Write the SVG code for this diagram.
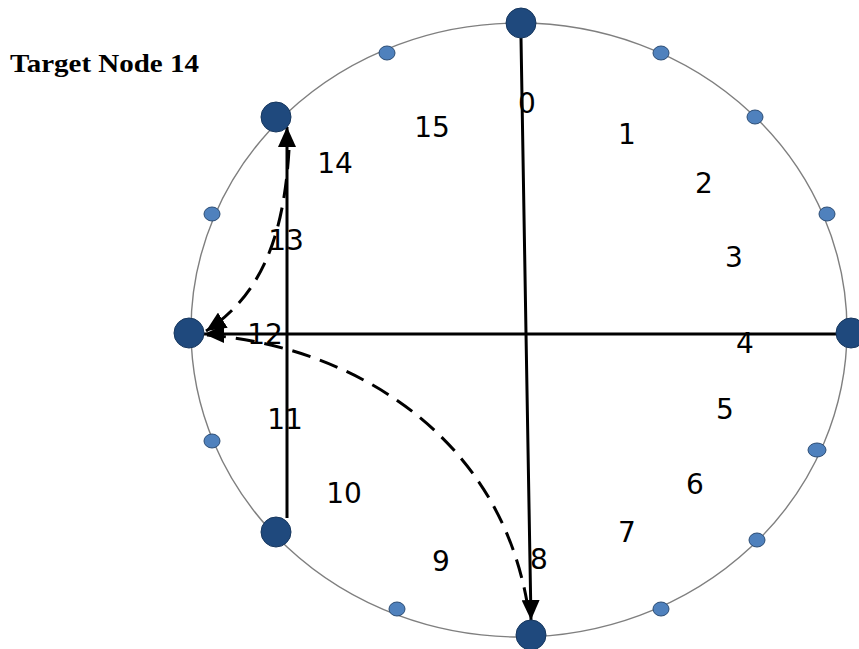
<svg xmlns="http://www.w3.org/2000/svg" width="859" height="649" viewBox="0 0 859 649">
<style>
.ring{fill:none;stroke:#7f7f7f;stroke-width:1.4}
.big{fill:#1F497D;stroke:#17375E;stroke-width:1}
.small{fill:#4F81BD;stroke:#2C4D75;stroke-width:1}
.lbl{font-family:"DejaVu Sans",Verdana,sans-serif;font-size:28px;fill:#000;text-anchor:middle}
.solid{fill:none;stroke:#000;stroke-width:3}
.dash{fill:none;stroke:#000;stroke-width:3;stroke-dasharray:19 10}
.title{font-family:"Liberation Serif","Times New Roman",serif;font-weight:bold;font-size:26px;fill:#000}
</style>
<defs>
<marker id="ah" markerUnits="userSpaceOnUse" markerWidth="20" markerHeight="18" refX="20" refY="9" orient="auto" viewBox="0 0 20 18">
<path d="M0,0 L20,9 L0,18 z" fill="#000"/>
</marker>
</defs>
<rect width="859" height="649" fill="#fff"/>
<text class="title" x="10" y="72" textLength="189" lengthAdjust="spacingAndGlyphs">Target Node 14</text>
<ellipse class="ring" cx="519" cy="330" rx="328" ry="307"/>
<g id="labels">
<text class="lbl" x="527" y="113">0</text>
<text class="lbl" x="627" y="144">1</text>
<text class="lbl" x="704" y="193">2</text>
<text class="lbl" x="734" y="267">3</text>
<text class="lbl" x="745" y="353">4</text>
<text class="lbl" x="725" y="419">5</text>
<text class="lbl" x="695" y="494">6</text>
<text class="lbl" x="627" y="542">7</text>
<text class="lbl" x="539" y="569">8</text>
<text class="lbl" x="441" y="571">9</text>
<text class="lbl" x="344" y="503">10</text>
<text class="lbl" x="285" y="429">11</text>
<text class="lbl" x="265" y="344">12</text>
<text class="lbl" x="286" y="250">13</text>
<text class="lbl" x="335" y="173">14</text>
<text class="lbl" x="432" y="137">15</text>
</g>
<g id="connectors">
<path class="solid" d="M521 38 L526 333 L531 620" marker-end="url(#ah)"/>
<path class="solid" d="M850 334 L204 334" marker-end="url(#ah)"/>
<path class="solid" d="M287 518 L287 127" marker-end="url(#ah)"/>
<path class="dash" d="M289 150 C284 235 262 295 206 331" marker-end="url(#ah)"/>
<path class="dash" d="M207 335 C340 345 495 425 527 602"/>
</g>
<g id="node-top"><circle class="big" cx="521" cy="23" r="15"/></g>
<g id="node-bottom"><circle class="big" cx="531" cy="635" r="15"/></g>
<g id="node-left"><circle class="big" cx="189" cy="333" r="15"/></g>
<g id="node-right"><circle class="big" cx="851" cy="333" r="15"/></g>
<g id="node-14"><circle class="big" cx="276" cy="117" r="15"/></g>
<g id="node-10"><circle class="big" cx="276" cy="532" r="15"/></g>
<g id="small-nodes">
<ellipse class="small" cx="387" cy="53" rx="8" ry="7"/>
<ellipse class="small" cx="661" cy="53" rx="8" ry="7"/>
<ellipse class="small" cx="755" cy="117" rx="8" ry="7"/>
<ellipse class="small" cx="827" cy="214" rx="8" ry="7"/>
<ellipse class="small" cx="212" cy="214" rx="8" ry="7"/>
<ellipse class="small" cx="212" cy="441" rx="8" ry="7"/>
<ellipse class="small" cx="817" cy="450" rx="9" ry="7"/>
<ellipse class="small" cx="757" cy="540" rx="8" ry="7"/>
<ellipse class="small" cx="661" cy="609" rx="8" ry="7"/>
<ellipse class="small" cx="397" cy="609" rx="8" ry="7"/>
</g>
</svg>
